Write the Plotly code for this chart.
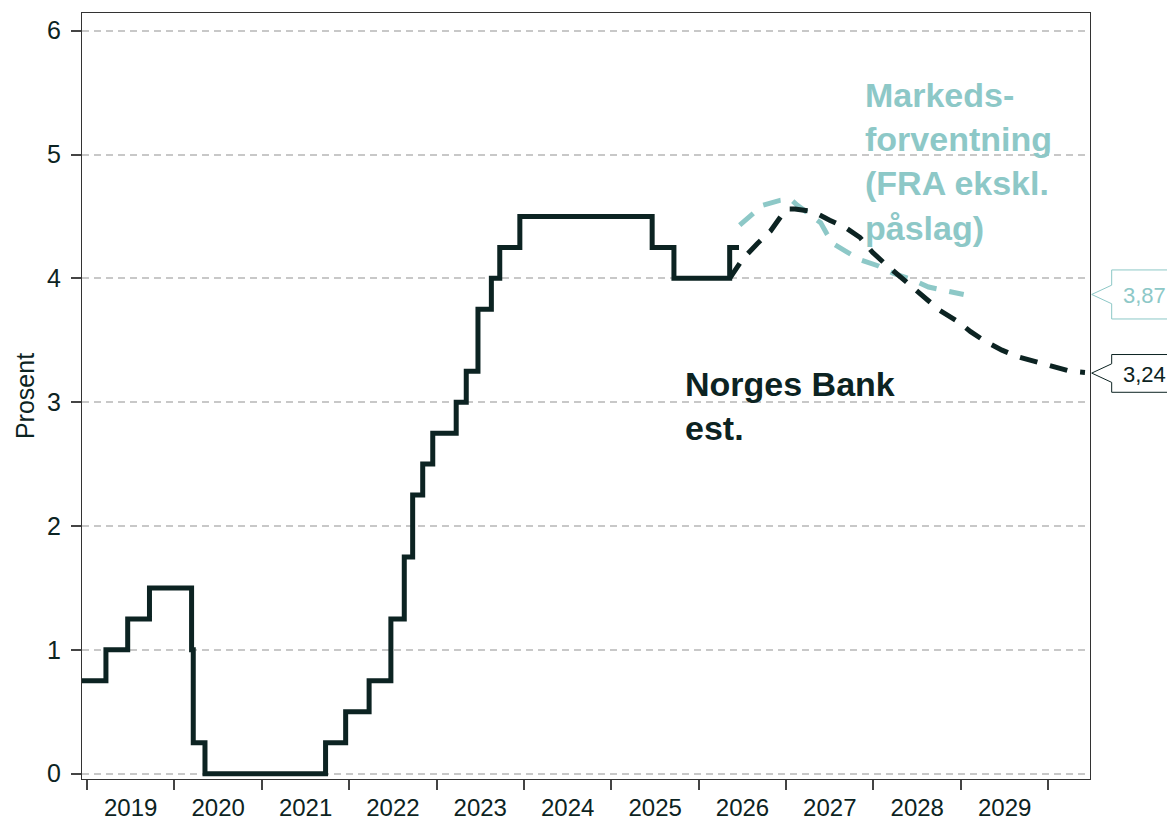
import plotly.graph_objects as go

# Policy rate (actual), step changes
rate_dates = ["2018-09-20", "2019-03-21", "2019-06-20", "2019-09-19", "2020-03-13",
              "2020-03-20", "2020-05-08", "2021-09-24", "2021-12-17", "2022-03-25",
              "2022-06-24", "2022-08-19", "2022-09-23", "2022-11-04", "2022-12-16",
              "2023-03-24", "2023-05-05", "2023-06-23", "2023-08-18", "2023-09-22",
              "2023-12-15", "2025-06-20", "2025-09-19", "2026-05-10", "2026-06-18"]
rate_values = [0.75, 1.00, 1.25, 1.50, 1.00,
               0.25, 0.00, 0.25, 0.50, 0.75,
               1.25, 1.75, 2.25, 2.50, 2.75,
               3.00, 3.25, 3.75, 4.00, 4.25,
               4.50, 4.25, 4.00, 4.25, 4.25]

# Norges Bank estimate (dashed)
nb_dates = ["2026-05-10", "2026-07-05", "2026-09-02", "2026-10-27", "2026-12-10",
            "2027-01-05", "2027-02-07", "2027-04-23", "2027-07-02", "2027-09-06",
            "2027-11-06", "2027-12-28", "2028-02-17", "2028-04-16", "2028-06-14",
            "2028-08-11", "2028-10-05", "2028-12-20", "2029-02-10", "2029-04-13",
            "2029-06-21", "2029-08-22", "2029-11-06", "2030-01-15", "2030-04-02",
            "2030-06-03"]
nb_values = [4.00, 4.16, 4.28, 4.38, 4.50,
             4.56, 4.56, 4.54, 4.47, 4.41,
             4.33, 4.21, 4.12, 4.02, 3.93,
             3.83, 3.74, 3.65, 3.57, 3.49,
             3.42, 3.37, 3.33, 3.29, 3.25,
             3.24]

# Market expectations (FRA excl. premium)
mkt_dates = ["2026-06-21", "2026-08-04", "2026-09-24", "2026-12-06", "2027-01-19",
             "2027-02-17", "2027-04-13", "2027-05-25", "2027-06-20", "2027-07-17",
             "2027-09-06", "2027-11-07", "2028-01-22", "2028-03-25", "2028-06-10",
             "2028-08-18", "2028-10-30", "2029-01-12"]
mkt_values = [4.43, 4.50, 4.59, 4.63, 4.64,
              4.59, 4.51, 4.45, 4.36, 4.28,
              4.22, 4.15, 4.10, 4.04, 3.99,
              3.93, 3.90, 3.87]

nb_last_label = "3,24"
mkt_last_label = "3,87"

DARK = "#0C2322"
TEAL = "#8DC8C7"
FONT = "Liberation Sans, Arial, sans-serif"

fig = go.Figure()
fig.add_trace(go.Scatter(x=mkt_dates, y=mkt_values, mode="lines",
                         line=dict(color=TEAL, width=5, dash="18px,13px"),
                         showlegend=False, hoverinfo="skip"))
fig.add_trace(go.Scatter(x=nb_dates, y=nb_values, mode="lines",
                         line=dict(color=DARK, width=5, dash="18px,13px"),
                         showlegend=False, hoverinfo="skip"))
fig.add_trace(go.Scatter(x=rate_dates, y=rate_values, mode="lines",
                         line=dict(color=DARK, width=5, shape="hv"),
                         showlegend=False, hoverinfo="skip"))

# Text labels
fig.add_annotation(x="2027-11-19", y=5.652, xref="x", yref="y",
                   text="Markeds-<br>forventning<br>(FRA ekskl.<br>påslag)",
                   showarrow=False, xanchor="left", yanchor="top", align="left",
                   font=dict(family=FONT, size=34, color=TEAL, weight="bold"))
fig.add_annotation(x="2025-10-28", y=3.316, xref="x", yref="y",
                   text="Norges Bank<br>est.",
                   showarrow=False, xanchor="left", yanchor="top", align="left",
                   font=dict(family=FONT, size=34, color=DARK, weight="bold"))

# Callout boxes at the right edge
def callout(y_tip, top, bottom, color, label):
    x_box, x_tip, x_far = 1.0215, 1.0017, 1.12
    path = (f"M {x_far},{top} L {x_box},{top} L {x_box},{y_tip + 0.075} "
            f"L {x_tip},{y_tip} L {x_box},{y_tip - 0.075} L {x_box},{bottom} "
            f"L {x_far},{bottom} Z")
    fig.add_shape(type="path", path=path, xref="paper", yref="y",
                  line=dict(color=color, width=1), fillcolor="white", layer="above")
    fig.add_annotation(x=1.031, y=y_tip - 0.01, xref="paper", yref="y", text=label,
                       showarrow=False, xanchor="left", yanchor="middle",
                       font=dict(family=FONT, size=22, color=color))

callout(3.87, 4.068, 3.672, TEAL, mkt_last_label)
callout(3.235, 3.385, 3.08, DARK, nb_last_label)

# The page body adds an 8px offset; size/margins compensate so the plot area
# lands at the same screen position as the reference.
fig.update_layout(
    width=1167, height=814,
    margin=dict(l=74, r=85, t=5, b=43, autoexpand=False),
    paper_bgcolor="white", plot_bgcolor="white",
    font=dict(family=FONT, size=25, color=DARK),
    showlegend=False,
)
fig.update_xaxes(
    type="date", range=["2018-12-11", "2030-06-24"],
    tick0="2019-01-01", dtick="M12", tickformat="%Y", ticklabelmode="period",
    ticks="outside", ticklen=10, tickwidth=2, tickcolor="#444",
    ticklabelstandoff=-3,
    showline=True, mirror=True, linecolor="#333", linewidth=1,
    showgrid=False, zeroline=False, automargin=False,
    tickfont=dict(family=FONT, size=24, color=DARK),
)
fig.update_yaxes(
    range=[-0.043, 6.143], tickvals=[0, 1, 2, 3, 4, 5, 6],
    ticks="outside", ticklen=10, tickwidth=2, tickcolor="#444",
    ticklabelstandoff=5,
    showline=True, mirror=True, linecolor="#333", linewidth=1,
    showgrid=True, gridcolor="#C8C8C8", gridwidth=2, griddash="7px,5px",
    zeroline=False, automargin=False,
    tickfont=dict(family=FONT, size=25, color=DARK),
    title=dict(text="Prosent", font=dict(family=FONT, size=25, color=DARK), standoff=5),
)

fig.write_html("out.html")
